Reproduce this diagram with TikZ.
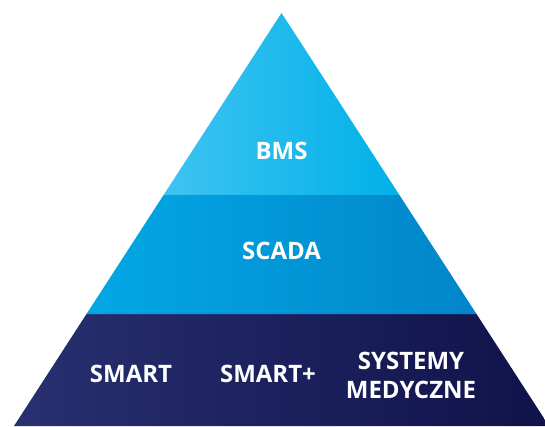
\documentclass[tikz,border=0pt]{standalone}
\usepackage{fontspec}
\setmainfont{Open Sans}
\usepackage{tikz}
\usetikzlibrary{positioning}
\definecolor{toplight}{HTML}{3EC3F1}
\definecolor{topdark}{HTML}{00B1E8}
\definecolor{midlight}{HTML}{02A8E5}
\definecolor{middark}{HTML}{0285CA}
\definecolor{botlight}{HTML}{283070}
\definecolor{botdark}{HTML}{10124A}

\begin{document}
\begin{tikzpicture}[x=1pt, y=1pt,
  label/.style={text=white, font=\fontsize{24}{28.5}\selectfont\bfseries, align=center, inner sep=0pt}]
  \useasboundingbox (0,0) rectangle (545,426);
  \clip (0,0) rectangle (545,426);
  \coordinate (T)  at (281.5,413);
  \coordinate (L0) at (14,0);
  \coordinate (R0) at (549,0);
  \coordinate (L1) at (86.5,112);
  \coordinate (R1) at (476.5,112);
  \coordinate (L2) at (163.6,231);
  \coordinate (R2) at (399.4,231);

  % tiers
  \shade[left color=botlight, right color=botdark] (L0) -- (R0) -- (R1) -- (L1) -- cycle;
  \shade[left color=midlight, right color=middark] (L1) -- (R1) -- (R2) -- (L2) -- cycle;
  \shade[left color=toplight, right color=topdark] (L2) -- (R2) -- (T) -- cycle;

  % texts
  \node[label] (BMS)   at (281.5,275) {BMS};
  \node[label] (SCADA) at (281.5,175.5) {SCADA};
  \node[label] (SMART) at (131,52) {SMART};
  \node[label] (SMARTP) at (268,52) {SMART+};
  \node[label] (SYS)   at (411,50.5) {SYSTEMY\\MEDYCZNE};
\end{tikzpicture}
\end{document}
